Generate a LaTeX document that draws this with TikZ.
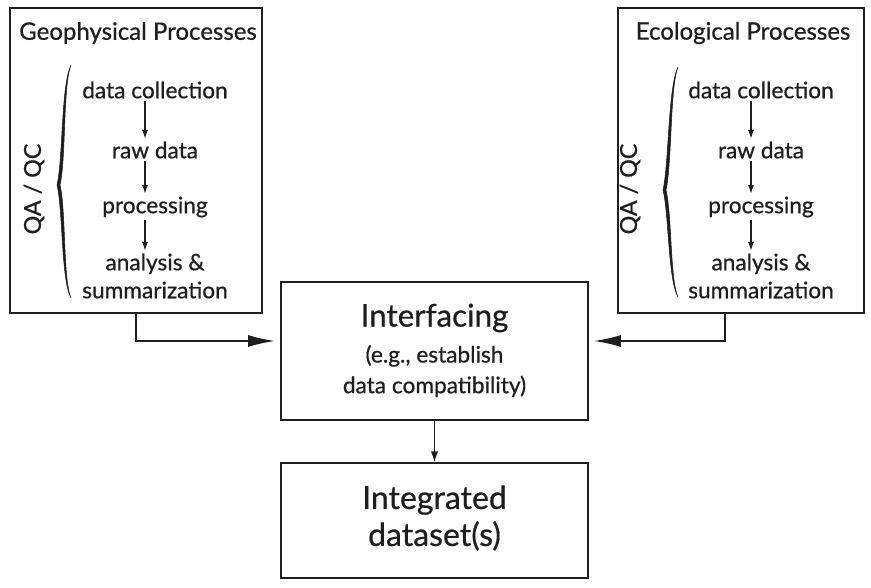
\documentclass[tikz,border=0pt]{standalone}
\usepackage{fontspec}
\setmainfont{Lato}[FakeBold=0.6]
\usetikzlibrary{arrows.meta,positioning,calc}
\definecolor{linecolor}{RGB}{30,30,30}
\definecolor{labelcolor}{RGB}{30,30,30}
\tikzset{
procbox/.style={
  draw=linecolor,
  line width=1.3pt,
  inner sep=0pt
},
mainbox/.style={
  draw=linecolor,
  line width=1.3pt,
  inner sep=0pt
},
boxtext/.style={
  align=center,
  text=labelcolor,
  inner sep=0pt
},
titlelabel/.style={
  font=\fontsize{18}{20}\selectfont,
  text=labelcolor
},
steptext/.style={
  font=\fontsize{17}{21}\selectfont,
  text=labelcolor,
  align=center,
  inner sep=2pt
},
qalabel/.style={
  font=\fontsize{17.5}{20}\selectfont,
  text=labelcolor,
  rotate=90
},
smallarrow/.style={
  -{Latex[length=6.5pt,width=4.5pt]},
  line width=0.8pt,
  draw=linecolor
},
midarrow/.style={
  -{Latex[length=8pt,width=5.5pt]},
  line width=0.9pt,
  draw=linecolor
},
bigarrow/.style={
  -{Latex[length=20pt,width=9pt]},
  line width=1.2pt,
  draw=linecolor,
  shorten >=4pt
}
}
\begin{document}
\begin{tikzpicture}[x=0.75pt,y=-0.75pt]
\useasboundingbox (0,0) rectangle (871,588);

% process boxes
\node[procbox, minimum width=189pt, minimum height=228.75pt] (geo) at (136,160.5) {};
\node[procbox, minimum width=184.5pt, minimum height=228.75pt] (eco) at (741,160.5) {};

\node[titlelabel] (geotitle) at (138,33) {Geophysical Processes};
\node[titlelabel] (ecotitle) at (743,33) {Ecological Processes};

% left chain
\node[steptext] (geodc) at (155,90) {data collection};
\node[steptext] (georaw) at (155,150) {raw data};
\node[steptext] (geoproc) at (155,207) {processing};
\node[steptext] (geoana) at (155,276) {analysis \&\\summarization};
\draw[smallarrow] ([xshift=-7.5pt]geodc.south) -- ([xshift=-7.5pt]georaw.north);
\draw[smallarrow] ([xshift=-7.5pt]georaw.south) -- ([xshift=-7.5pt]geoproc.north);
\draw[smallarrow] ([xshift=-7.5pt]geoproc.south) -- ([xshift=-7.5pt]geoana.north);

% right chain
\node[steptext] (ecodc) at (761,90) {data collection};
\node[steptext] (ecoraw) at (761,150) {raw data};
\node[steptext] (ecoproc) at (761,207) {processing};
\node[steptext] (ecoana) at (761,276) {analysis \&\\summarization};
\draw[smallarrow] ([xshift=-7.5pt]ecodc.south) -- ([xshift=-7.5pt]ecoraw.north);
\draw[smallarrow] ([xshift=-7.5pt]ecoraw.south) -- ([xshift=-7.5pt]ecoproc.north);
\draw[smallarrow] ([xshift=-7.5pt]ecoproc.south) -- ([xshift=-7.5pt]ecoana.north);

% QA / QC braces
\node[qalabel] (geoqa) at (34,189) {QA / QC};
\node[qalabel] (ecoqa) at (630,189) {QA / QC};
\filldraw[linecolor, line width=0.4pt] (71,65) .. controls (61,85) and (63,160) .. (57,185)
  .. controls (63,210) and (61,280) .. (71,298)
  .. controls (63,280) and (66,210) .. (60,185)
  .. controls (66,160) and (63,85) .. (71,65) -- cycle;
\filldraw[linecolor, line width=0.4pt] (678,67) .. controls (668,87) and (669,163) .. (663,190)
  .. controls (669,215) and (668,280) .. (678,297)
  .. controls (670,280) and (672,215) .. (666,190)
  .. controls (672,163) and (670,87) .. (678,67) -- cycle;

% interfacing and result
\node[mainbox, minimum width=230.25pt, minimum height=103.5pt] (inter) at (434.5,351) {};
\node[boxtext, font=\fontsize{23.5}{26}\selectfont] (intertitle) at (434.5,318) {Interfacing};
\node[boxtext, font=\fontsize{17}{23}\selectfont] (internote) at (434.5,371)
  {(e.g., establish\\data compatibility)};
\node[mainbox, minimum width=230.25pt, minimum height=86.25pt] (result) at (434.5,520.5) {};
\node[boxtext, font=\fontsize{24}{27.75}\selectfont] (resulttext) at (434.5,518)
  {Integrated\\dataset(s)};

\coordinate (interinl) at ($(inter.west)+(0,-10)$);
\coordinate (interinr) at ($(inter.east)+(0,-10)$);
\coordinate (ecoout) at ($(eco.south)+(-16,0)$);
\draw[bigarrow] (geo.south) |- (interinl);
\draw[bigarrow] (ecoout) |- (interinr);
\draw[midarrow] (inter) -- (result);
\end{tikzpicture}
\end{document}
